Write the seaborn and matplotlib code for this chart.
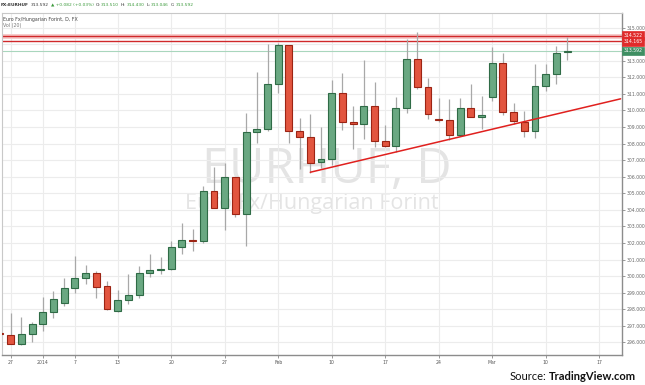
import matplotlib
matplotlib.use("Agg")
import matplotlib.pyplot as plt
import matplotlib.transforms as mtransforms
import numpy as np
import pandas as pd
import seaborn as sns

# ---------------- data ----------------
dates = ["Dec 26", "Dec 27", "Dec 30", "Dec 31", "Jan 2", "Jan 3", "Jan 6", "Jan 7", "Jan 8",
         "Jan 9", "Jan 10", "Jan 13", "Jan 14", "Jan 15", "Jan 16", "Jan 17", "Jan 20",
         "Jan 21", "Jan 22", "Jan 23", "Jan 24", "Jan 27", "Jan 28", "Jan 29", "Jan 30",
         "Jan 31", "Feb 3", "Feb 4", "Feb 5", "Feb 6", "Feb 7", "Feb 10", "Feb 11",
         "Feb 12", "Feb 13", "Feb 14", "Feb 17", "Feb 18", "Feb 19", "Feb 20", "Feb 21",
         "Feb 24", "Feb 25", "Feb 26", "Feb 27", "Feb 28", "Mar 3", "Mar 4", "Mar 5",
         "Mar 6", "Mar 7", "Mar 10", "Mar 11", "Mar 12"]
opens = [296.55, 296.45, 295.90, 296.50, 297.09, 297.81, 298.35, 299.30, 299.88,
         300.18, 299.38, 297.90, 298.58, 298.84, 300.20, 300.36, 300.46,
         301.78, 302.20, 302.10, 305.14, 304.14, 305.98, 303.74, 308.70,
         308.90, 311.62, 313.93, 308.74, 308.38, 306.88, 307.04, 311.03,
         309.29, 309.21, 310.29, 308.14, 307.84, 310.17, 313.13, 311.40,
         309.50, 309.44, 308.50, 310.13, 309.62, 310.79, 312.89, 309.89,
         309.33, 308.78, 311.49, 312.20, 313.510]
highs = [296.60, 297.75, 297.54, 297.25, 298.75, 299.08, 299.90, 301.20, 300.70,
         300.30, 299.68, 299.14, 300.10, 300.64, 301.34, 301.14, 302.10,
         303.20, 302.84, 305.44, 306.58, 306.80, 306.00, 309.87, 312.30,
         314.00, 314.05, 313.95, 309.57, 309.77, 309.03, 311.85, 312.28,
         310.27, 313.03, 311.70, 309.14, 310.80, 314.30, 314.75, 311.95,
         310.77, 310.67, 310.77, 311.60, 310.87, 313.83, 313.49, 310.47,
         309.98, 312.80, 312.80, 313.87, 314.430]
lows = [296.45, 295.88, 295.85, 296.05, 296.70, 297.50, 298.20, 299.00, 299.54,
        298.70, 297.95, 297.85, 298.30, 298.65, 299.94, 300.14, 300.38,
        301.34, 301.54, 301.98, 304.10, 302.78, 303.54, 301.80, 308.03,
        308.78, 311.03, 308.03, 306.44, 306.24, 306.54, 306.68, 308.84,
        307.70, 308.30, 307.78, 307.80, 307.50, 309.83, 311.30, 309.50,
        309.33, 308.24, 308.45, 309.60, 308.90, 310.58, 309.74, 309.17,
        308.38, 308.33, 311.19, 311.57, 313.046]
closes = [296.50, 295.92, 296.49, 297.09, 297.81, 298.64, 299.30, 299.90, 300.20,
          299.34, 297.99, 298.58, 298.84, 300.20, 300.40, 300.46, 301.78,
          302.20, 302.10, 305.14, 304.14, 305.98, 303.74, 308.67, 308.90,
          311.62, 313.93, 308.78, 308.38, 306.84, 307.07, 311.03, 309.33,
          309.21, 310.29, 308.18, 307.84, 310.17, 313.13, 311.40, 309.81,
          309.41, 308.50, 310.13, 309.63, 309.74, 312.89, 309.89, 309.38,
          308.78, 311.49, 312.20, 313.45, 313.592]

tick_dates = ["Dec 27", "Jan 2", "Jan 7", "Jan 13", "Jan 20", "Jan 27", "Feb 3",
              "Feb 10", "Feb 17", "Feb 24", "Mar 3", "Mar 10", "Mar 17"]
tick_labels = ["27", "2014", "7", "13", "20", "27", "Feb", "10", "17", "24", "Mar", "10", "17"]

resistance_levels = [314.522, 314.165]
last_price = 313.592
trend_dates = ["Feb 6", "Mar 19"]
trend_values = [306.27, 310.70]

header_parts = [("FX:EURHUF", "#333333", "bold"), ("313.592", "#333333", "normal"),
                ("\u25b2 +0.082 (+0.03%)", "#3c9a3c", "normal"),
                ("O:", "#333333", "normal"), ("313.510", "#3c9a3c", "normal"),
                ("H:", "#333333", "normal"), ("314.430", "#3c9a3c", "normal"),
                ("L:", "#333333", "normal"), ("313.046", "#3c9a3c", "normal"),
                ("C:", "#333333", "normal"), ("313.592", "#3c9a3c", "normal")]

# ---------------- frame ----------------
df = pd.DataFrame({"date": dates, "open": opens, "high": highs, "low": lows, "close": closes})
df["pos"] = np.arange(len(df)) - 1          # Dec 27 -> 0
pos_of = dict(zip(df["date"], df["pos"]))
extra = {"Mar 13": 53, "Mar 14": 54, "Mar 17": 55, "Mar 18": 56, "Mar 19": 57}
pos_of.update(extra)

sns.set_theme(style="white")
plt.rcParams["font.family"] = ["DejaVu Sans"]

W, H = 645, 385
fig = plt.figure(figsize=(W / 100, H / 100), dpi=100)
ax = fig.add_axes([2 / W, 30 / H, 620 / W, 342 / H])

xmin, xmax = -0.813, 57.13
ymin, ymax = 295.24, 315.88
ax.set_xlim(xmin, xmax)
ax.set_ylim(ymin, ymax)

# grid
grid_c = "#ececec"
for v in range(296, 316):
    ax.axhline(v, color=grid_c, lw=0.8, zorder=0)
xt = [pos_of[d] for d in tick_dates]
for x in xt:
    ax.axvline(x, color=grid_c, lw=0.8, zorder=0)

# watermark
fig.text(327 / W, 1 - 170 / H, "EURHUF, D", fontsize=35, color="#e4e4e4",
         ha="center", va="center", family="Open Sans", zorder=0.5)
fig.text(312 / W, 1 - 204 / H, "Euro Fx/Hungarian Forint", fontsize=15.5, color="#e4e4e4",
         ha="center", va="center", family="Open Sans", zorder=0.5)
ax.set_zorder(1)
ax.patch.set_alpha(0)

# candles
up = df["close"] >= df["open"]
green_f, green_e = "#6aa882", "#2f6b46"
red_f, red_e = "#e2553f", "#9c2414"
ax.vlines(df["pos"], df["low"], df["high"], color="#a8a8a8", lw=0.9, zorder=2)
bottoms = np.minimum(df["open"], df["close"])
heights = np.maximum(np.abs(df["close"] - df["open"]), 0.06)
ax.bar(df["pos"][up], heights[up], bottom=bottoms[up], width=0.64,
       color=green_f, edgecolor=green_e, linewidth=0.8, zorder=3)
ax.bar(df["pos"][~up], heights[~up], bottom=bottoms[~up], width=0.64,
       color=red_f, edgecolor=red_e, linewidth=0.8, zorder=3)

# horizontal levels
ax.axhline(last_price, color="#a9d6bd", lw=0.8, zorder=1.5)
ax.axhline(resistance_levels[0], color="#f6c9c9", lw=3.5, zorder=1.6)
for lv in resistance_levels:
    ax.axhline(lv, color="#d0282a", lw=1.0, zorder=1.7)

# trend line
trend = pd.DataFrame({"x": [pos_of[d] for d in trend_dates], "y": trend_values})
sns.lineplot(data=trend, x="x", y="y", ax=ax, color="#e0201e", lw=1.1, zorder=4)

# axes styling
ax.set_xlabel("")
ax.set_ylabel("")
ax.yaxis.tick_right()
yt = [v for v in range(296, 316)]
ax.set_yticks(yt)
ax.set_yticklabels(["" if v == 314 else f"{v:.3f}" for v in yt])
ax.set_xticks(xt)
ax.set_xticklabels(tick_labels)
ax.tick_params(axis="y", right=True, length=2.5, width=0.6, color="#888888",
               labelsize=3.3, labelcolor="#666666", pad=1)
ax.tick_params(axis="x", bottom=True, length=2, width=0.6, color="#888888",
               labelsize=3.3, labelcolor="#555555", pad=1.5)
for s in ["left", "top"]:
    ax.spines[s].set_color("#c8c8c8")
    ax.spines[s].set_linewidth(0.8)
for s in ["right", "bottom"]:
    ax.spines[s].set_color("#8c8c8c")
    ax.spines[s].set_linewidth(1.0)

# right-axis price badges
trans = mtransforms.blended_transform_factory(ax.transAxes, ax.transData)
badges = [(resistance_levels[0], "#e02b2b"), (resistance_levels[1], "#e02b2b"),
          (last_price, "#3f8f63")]
for val, col in badges:
    ax.text(1.0025, val, f"{val:.3f}", transform=trans, fontsize=3.3, color="white",
            ha="left", va="center", clip_on=False, zorder=6,
            bbox=dict(boxstyle="square,pad=0.35", fc=col, ec=col, lw=0.5))

# header texts (chained left to right)
fig.canvas.draw()
r = fig.canvas.get_renderer()
hdr = 3.2
xcur = 1.0
for s, col, wt in header_parts:
    t = fig.text(xcur / W, 1 - 4.5 / H, s, fontsize=hdr, color=col, weight=wt,
                 ha="left", va="center")
    bb = t.get_window_extent(renderer=r)
    gap = 0.6 if s.endswith(":") else 2.0
    xcur = bb.x1 + gap

fig.text(3 / W, 1 - 19 / H, "Euro Fx/Hungarian Forint, D, FX", fontsize=3.4,
         color="#444444", ha="left", va="center")
fig.text(3 / W, 1 - 25.5 / H, "Vol (20)", fontsize=3.4, color="#777777",
         ha="left", va="center")

# source
t2 = fig.text(636 / W, 1 - 376 / H, "TradingView.com", fontsize=8, color="#111111",
              ha="right", va="center", family="Lato", weight="bold")
bb = t2.get_window_extent(renderer=r)
fig.text((bb.x0 - 2.5) / W, 1 - 376 / H, "Source:", fontsize=8, color="#111111",
         ha="right", va="center", family="Lato")

fig.savefig("out.png", dpi=100)
